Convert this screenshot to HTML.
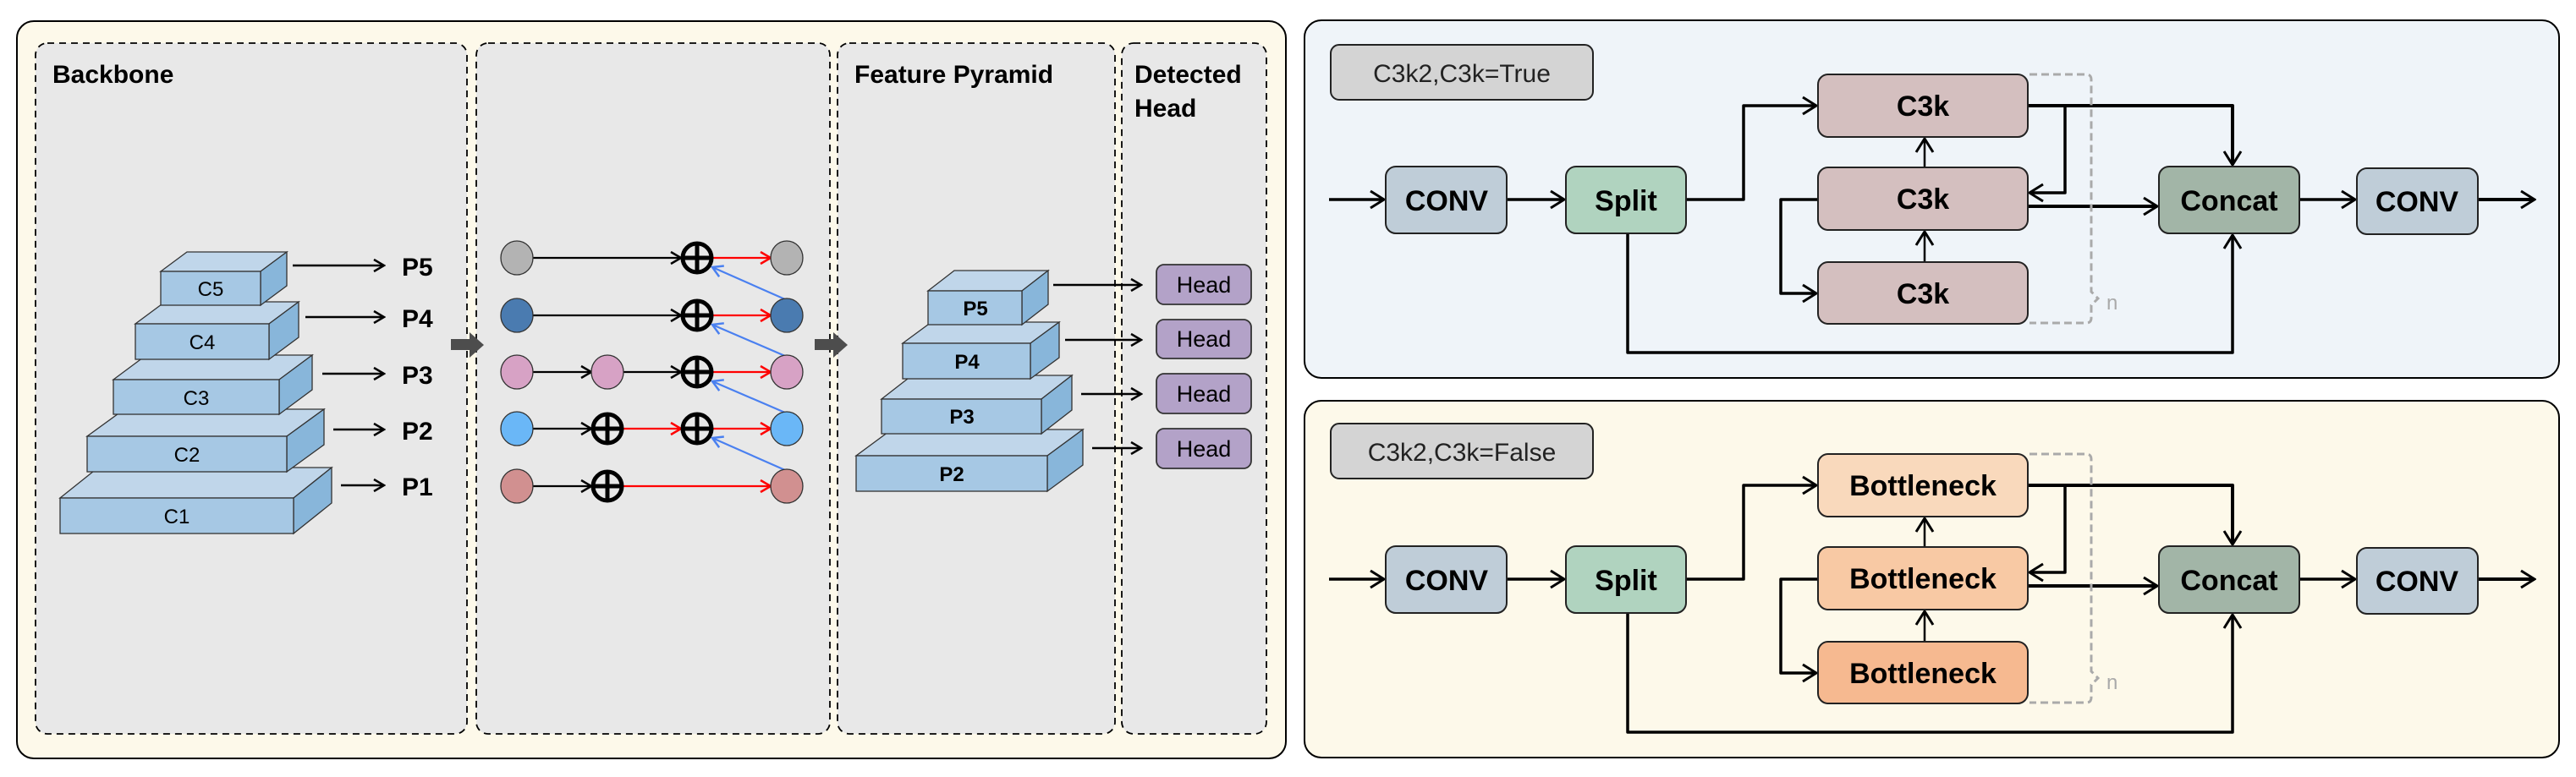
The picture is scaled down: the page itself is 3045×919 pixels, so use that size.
<!DOCTYPE html>
<html><head><meta charset="utf-8"><style>
html,body{margin:0;padding:0;background:#fff;}
svg{display:block;}
text{font-family:"Liberation Sans",sans-serif;}
</style></head><body>
<svg width="3045" height="919" viewBox="0 0 3045 919" xmlns="http://www.w3.org/2000/svg">
<defs>
<marker id="ab" viewBox="0 0 16 18" refX="14" refY="9" markerWidth="16" markerHeight="18" markerUnits="userSpaceOnUse" orient="auto"><path d="M2,2 L14,9 L2,16" fill="none" stroke="#000" stroke-width="2.5"/></marker>
<marker id="ar" viewBox="0 0 16 18" refX="14" refY="9" markerWidth="16" markerHeight="18" markerUnits="userSpaceOnUse" orient="auto"><path d="M2,2 L14,9 L2,16" fill="none" stroke="#f00" stroke-width="2.5"/></marker>
<marker id="abl" viewBox="0 0 16 18" refX="14" refY="9" markerWidth="16" markerHeight="18" markerUnits="userSpaceOnUse" orient="auto"><path d="M2,2 L14,9 L2,16" fill="none" stroke="#4a80f0" stroke-width="2.5"/></marker>
<marker id="aB" viewBox="0 0 20 24" refX="18" refY="12" markerWidth="20" markerHeight="24" markerUnits="userSpaceOnUse" orient="auto"><path d="M2,2 L18,12 L2,22" fill="none" stroke="#000" stroke-width="3"/></marker>
</defs>

<!-- LEFT PANEL -->
<rect x="20" y="25" width="1500" height="872" rx="20" fill="#fdf9ea" stroke="#000" stroke-width="2"/>
<g fill="#e8e8e8" stroke="#000" stroke-width="1.8" stroke-dasharray="8,6">
<rect x="42" y="51" width="510" height="817" rx="14"/>
<rect x="563" y="51" width="418" height="817" rx="14"/>
<rect x="990" y="51" width="328" height="817" rx="14"/>
<rect x="1326" y="51" width="171" height="817" rx="14"/>
</g>
<text x="62" y="98" font-size="30" font-weight="bold">Backbone</text>
<text x="1010" y="98" font-size="30" font-weight="bold">Feature Pyramid</text>
<text x="1341" y="98" font-size="30" font-weight="bold">Detected</text>
<text x="1341" y="138" font-size="30" font-weight="bold">Head</text>

<!-- backbone blocks -->
<g stroke="#333" stroke-width="1.3">
<polygon points="71,589 116,553 392,553 347,589" fill="#c0d6ea"/>
<polygon points="347,589 392,553 392,595 347,631" fill="#88b6da"/>
<rect x="71" y="589" width="276" height="42" fill="#a6c8e4"/>
<polygon points="103,516 147,484 383,484 339,516" fill="#c0d6ea"/>
<polygon points="339,516 383,484 383,526 339,558" fill="#88b6da"/>
<rect x="103" y="516" width="236" height="42" fill="#a6c8e4"/>
<polygon points="134,449 173,420 369,420 330,449" fill="#c0d6ea"/>
<polygon points="330,449 369,420 369,461 330,490" fill="#88b6da"/>
<rect x="134" y="449" width="196" height="41" fill="#a6c8e4"/>
<polygon points="160,383 195,357 353,357 318,383" fill="#c0d6ea"/>
<polygon points="318,383 353,357 353,399 318,425" fill="#88b6da"/>
<rect x="160" y="383" width="158" height="42" fill="#a6c8e4"/>
<polygon points="190,321 221,298 339,298 308,321" fill="#c0d6ea"/>
<polygon points="308,321 339,298 339,338 308,361" fill="#88b6da"/>
<rect x="190" y="321" width="118" height="40" fill="#a6c8e4"/>
</g>
<g font-size="24" text-anchor="middle">
<text x="209" y="619">C1</text>
<text x="221" y="546">C2</text>
<text x="232" y="479">C3</text>
<text x="239" y="413">C4</text>
<text x="249" y="350">C5</text>
</g>
<g stroke="#000" stroke-width="2.5" marker-end="url(#ab)">
<line x1="346" y1="314" x2="454" y2="314"/>
<line x1="361" y1="375" x2="454" y2="375"/>
<line x1="381" y1="442" x2="454" y2="442"/>
<line x1="394" y1="508" x2="454" y2="508"/>
<line x1="403" y1="574" x2="454" y2="574"/>
</g>
<g font-size="30" font-weight="bold">
<text x="475" y="326">P5</text>
<text x="475" y="387">P4</text>
<text x="475" y="454">P3</text>
<text x="475" y="520">P2</text>
<text x="475" y="586">P1</text>
</g>

<path d="M533,401 H555 V393 L572,408 L555,423 V414 H533 Z" fill="#4d4d4d"/>
<path d="M963,401 H985 V393 L1002,408 L985,423 V414 H963 Z" fill="#4d4d4d"/>

<g stroke-width="2.2" fill="none">
<line x1="630" y1="305" x2="805" y2="305" stroke="#000" marker-end="url(#ab)"/>
<line x1="843" y1="305" x2="911" y2="305" stroke="#f00" marker-end="url(#ar)"/>
<line x1="630" y1="373" x2="805" y2="373" stroke="#000" marker-end="url(#ab)"/>
<line x1="843" y1="373" x2="911" y2="373" stroke="#f00" marker-end="url(#ar)"/>
<line x1="630" y1="440" x2="699" y2="440" stroke="#000" marker-end="url(#ab)"/>
<line x1="737" y1="440" x2="805" y2="440" stroke="#000" marker-end="url(#ab)"/>
<line x1="843" y1="440" x2="911" y2="440" stroke="#f00" marker-end="url(#ar)"/>
<line x1="630" y1="507" x2="699" y2="507" stroke="#000" marker-end="url(#ab)"/>
<line x1="737" y1="507" x2="805" y2="507" stroke="#f00" marker-end="url(#ar)"/>
<line x1="843" y1="507" x2="911" y2="507" stroke="#f00" marker-end="url(#ar)"/>
<line x1="630" y1="575" x2="699" y2="575" stroke="#000" marker-end="url(#ab)"/>
<line x1="737" y1="575" x2="911" y2="575" stroke="#f00" marker-end="url(#ar)"/>
<g stroke="#4a80f0">
<line x1="928" y1="354" x2="842" y2="316" marker-end="url(#abl)"/>
<line x1="928" y1="421" x2="842" y2="384" marker-end="url(#abl)"/>
<line x1="928" y1="488" x2="842" y2="451" marker-end="url(#abl)"/>
<line x1="928" y1="556" x2="842" y2="518" marker-end="url(#abl)"/>
</g>
</g>
<g stroke="#333" stroke-width="1.3">
<ellipse cx="611" cy="305" rx="19" ry="20" fill="#b3b3b3"/>
<ellipse cx="930" cy="305" rx="19" ry="20" fill="#b3b3b3"/>
<ellipse cx="611" cy="373" rx="19" ry="20" fill="#4a7bb0"/>
<ellipse cx="930" cy="373" rx="19" ry="20" fill="#4a7bb0"/>
<ellipse cx="611" cy="440" rx="19" ry="20" fill="#d7a2c5"/>
<ellipse cx="718" cy="440" rx="19" ry="20" fill="#d7a2c5"/>
<ellipse cx="930" cy="440" rx="19" ry="20" fill="#d7a2c5"/>
<ellipse cx="611" cy="507" rx="19" ry="20" fill="#6ab7f7"/>
<ellipse cx="930" cy="507" rx="19" ry="20" fill="#6ab7f7"/>
<ellipse cx="611" cy="575" rx="19" ry="20" fill="#d19090"/>
<ellipse cx="930" cy="575" rx="19" ry="20" fill="#d19090"/>
</g>
<g stroke="#000" stroke-width="5" fill="none">
<g transform="translate(824,305)"><circle r="17"/><path d="M-17,0 H17 M0,-17 V17"/></g>
<g transform="translate(824,373)"><circle r="17"/><path d="M-17,0 H17 M0,-17 V17"/></g>
<g transform="translate(824,440)"><circle r="17"/><path d="M-17,0 H17 M0,-17 V17"/></g>
<g transform="translate(824,507)"><circle r="17"/><path d="M-17,0 H17 M0,-17 V17"/></g>
<g transform="translate(718,507)"><circle r="17"/><path d="M-17,0 H17 M0,-17 V17"/></g>
<g transform="translate(718,575)"><circle r="17"/><path d="M-17,0 H17 M0,-17 V17"/></g>
</g>

<g stroke="#333" stroke-width="1.3">
<polygon points="1012,539 1054,508 1280,508 1238,539" fill="#c0d6ea"/>
<polygon points="1238,539 1280,508 1280,550 1238,581" fill="#88b6da"/>
<rect x="1012" y="539" width="226" height="42" fill="#a6c8e4"/>
<polygon points="1042,472 1078,444 1267,444 1231,472" fill="#c0d6ea"/>
<polygon points="1231,472 1267,444 1267,485 1231,513" fill="#88b6da"/>
<rect x="1042" y="472" width="189" height="41" fill="#a6c8e4"/>
<polygon points="1067,406 1101,381 1252,381 1218,406" fill="#c0d6ea"/>
<polygon points="1218,406 1252,381 1252,423 1218,448" fill="#88b6da"/>
<rect x="1067" y="406" width="151" height="42" fill="#a6c8e4"/>
<polygon points="1097,344 1128,320 1239,320 1208,344" fill="#c0d6ea"/>
<polygon points="1208,344 1239,320 1239,360 1208,384" fill="#88b6da"/>
<rect x="1097" y="344" width="111" height="40" fill="#a6c8e4"/>
</g>
<g font-size="24" font-weight="bold" text-anchor="middle">
<text x="1125" y="569">P2</text>
<text x="1137" y="501">P3</text>
<text x="1143" y="436">P4</text>
<text x="1153" y="373">P5</text>
</g>
<g stroke="#000" stroke-width="2.5" marker-end="url(#ab)">
<line x1="1245" y1="337" x2="1349" y2="337"/>
<line x1="1259" y1="402" x2="1349" y2="402"/>
<line x1="1278" y1="466" x2="1349" y2="466"/>
<line x1="1291" y1="530" x2="1349" y2="530"/>
</g>
<g fill="#b3a2c8" stroke="#333" stroke-width="1.8">
<rect x="1367" y="313" width="112" height="47" rx="9"/>
<rect x="1367" y="378" width="112" height="46" rx="9"/>
<rect x="1367" y="442" width="112" height="47" rx="9"/>
<rect x="1367" y="507" width="112" height="47" rx="9"/>
</g>
<g font-size="27" text-anchor="middle">
<text x="1423" y="346">Head</text>
<text x="1423" y="410">Head</text>
<text x="1423" y="475">Head</text>
<text x="1423" y="540">Head</text>
</g>

<rect x="1542" y="24" width="1483" height="423" rx="20" fill="#eff4f9" stroke="#000" stroke-width="2"/>
<rect x="1542" y="474" width="1483" height="422" rx="20" fill="#fdf9ea" stroke="#000" stroke-width="2"/>

<g id="blk">
<g stroke="#000" stroke-width="3.5" fill="none" stroke-linejoin="round">
<line x1="1571" y1="236" x2="1636" y2="236" marker-end="url(#aB)"/>
<line x1="1781" y1="236" x2="1849" y2="236" marker-end="url(#aB)"/>
<path d="M1993,236 H2061 V125 H2147" marker-end="url(#aB)"/>
<path d="M2397,125 H2639 V195" stroke-width="4" marker-end="url(#aB)"/>
<path d="M2397,125 H2441 V228 H2399" marker-end="url(#aB)"/>
<path d="M2397,244 H2550" stroke-width="4" marker-end="url(#aB)"/>
<path d="M2149,236 H2105 V347 H2147" marker-end="url(#aB)"/>
<line x1="2275" y1="310" x2="2275" y2="274" stroke-width="2.5" marker-end="url(#aB)"/>
<line x1="2275" y1="198" x2="2275" y2="164" stroke-width="2.5" marker-end="url(#aB)"/>
<path d="M1924,276 V417 H2639 V278" marker-end="url(#aB)"/>
<line x1="2718" y1="236" x2="2784" y2="236" marker-end="url(#aB)"/>
<line x1="2929" y1="236" x2="2996" y2="236" stroke-width="4" marker-end="url(#aB)"/>
</g>
<path d="M2399,88 H2466 Q2472,88 2472,94 V345 L2480,353 L2472,361 V376 Q2472,382 2466,382 H2399" fill="none" stroke="#aaa" stroke-width="3" stroke-dasharray="9,5"/>
<g stroke="#222" stroke-width="2">
<rect x="1638" y="197" width="143" height="79" rx="12" fill="#bfcdd8"/>
<rect x="1851" y="197" width="142" height="79" rx="12" fill="#b0d3bf"/>
<rect x="2552" y="197" width="166" height="79" rx="12" fill="#a2b5a7"/>
<rect x="2786" y="199" width="143" height="78" rx="12" fill="#bfcdd8"/>
</g>
<g font-size="34" font-weight="bold" text-anchor="middle">
<text x="1710" y="249">CONV</text>
<text x="1922" y="249">Split</text>
<text x="2635" y="249">Concat</text>
<text x="2857" y="250">CONV</text>
</g>
</g>
<use href="#blk" transform="translate(0,449)"/>

<text x="2490" y="366" font-size="24" fill="#aaa">n</text>
<text x="2490" y="815" font-size="24" fill="#aaa">n</text>

<rect x="1573" y="53" width="310" height="65" rx="10" fill="#d4d4d4" stroke="#222" stroke-width="2"/>
<text x="1728" y="97" font-size="30" text-anchor="middle" fill="#222">C3k2,C3k=True</text>
<g stroke="#222" stroke-width="2" fill="#d4bfbf">
<rect x="2149" y="88" width="248" height="74" rx="12"/>
<rect x="2149" y="198" width="248" height="74" rx="12"/>
<rect x="2149" y="310" width="248" height="73" rx="12"/>
</g>
<g font-size="34" font-weight="bold" text-anchor="middle">
<text x="2273" y="137">C3k</text>
<text x="2273" y="247">C3k</text>
<text x="2273" y="359">C3k</text>
</g>

<rect x="1573" y="501" width="310" height="65" rx="10" fill="#d4d4d4" stroke="#222" stroke-width="2"/>
<text x="1728" y="545" font-size="30" text-anchor="middle" fill="#222">C3k2,C3k=False</text>
<g stroke="#222" stroke-width="2">
<rect x="2149" y="537" width="248" height="74" rx="12" fill="#f9d9bc"/>
<rect x="2149" y="647" width="248" height="74" rx="12" fill="#f8c9a4"/>
<rect x="2149" y="759" width="248" height="73" rx="12" fill="#f6b990"/>
</g>
<g font-size="34" font-weight="bold" text-anchor="middle">
<text x="2273" y="586">Bottleneck</text>
<text x="2273" y="696">Bottleneck</text>
<text x="2273" y="808">Bottleneck</text>
</g>
</svg>
</body></html>
